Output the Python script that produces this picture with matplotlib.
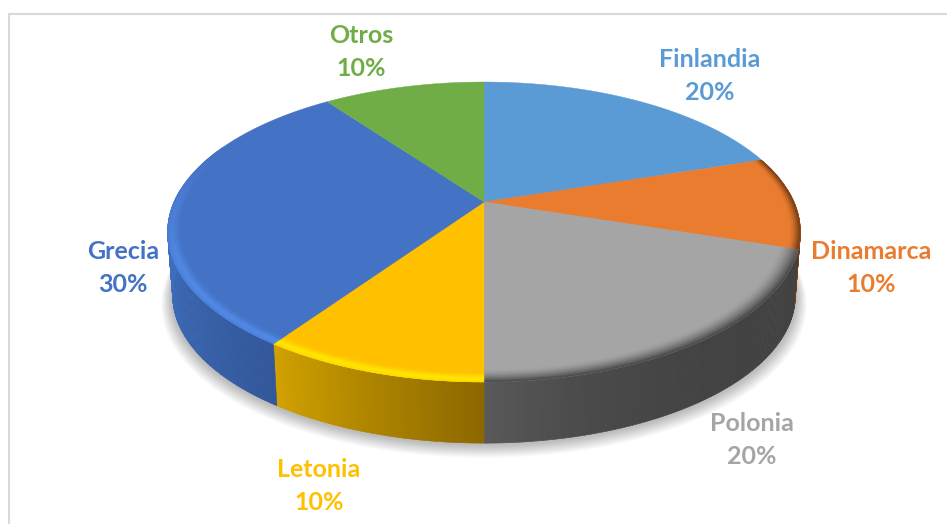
import numpy as np
import matplotlib
matplotlib.use('Agg')
import matplotlib.pyplot as plt
from matplotlib.collections import PolyCollection
from matplotlib.colors import to_rgb

# Chart data
countries = ['Finlandia', 'Dinamarca', 'Polonia', 'Letonia', 'Grecia', 'Otros']
percent_labels = [20, 10, 20, 10, 30, 10]
# Slice sizes, the labels above are rounded
shares = [20, 10, 20, 9.6, 30.4, 10]
top_colors = ['#5B9BD5', '#EA7C30', '#A5A5A5', '#FFC000', '#4472C4', '#70AD47']
label_x = [710, 871, 752, 319, 123, 361]
label_y = [76, 268, 440, 486, 268, 52]

# Side wall colours, from the start of a slice to its end (clockwise)
wall_start = ['#5B9BD5', '#8A4A1A', '#424242', '#8C6800', '#33589A', '#70AD47']
wall_end = ['#5B9BD5', '#6E3A14', '#5A5A5A', '#D2A200', '#3D6DBC', '#70AD47']
# Rim light per slice
rim_colors = ['#5B9BD5', '#5A2E0E', '#3C3C3C', '#FFE600', '#528AE6', '#70AD47']

# Pie geometry in pixels
cx, cy = 484, 202
rx, ry = 310, 144
persp = 0.2
depth = 64


def project(theta, r=1.0, z=0.0):
    # theta in degrees clockwise from 12 o'clock, perspective squeezes the back
    t = np.radians(theta)
    u, v = r * np.sin(t), r * np.cos(t)
    w = 1 + persp * v
    shrink = 1 - 0.016 * z
    return cx + rx * shrink * u / w, cy - ry * shrink * v / w + depth * z


def mix(a, b, t):
    a, b = np.array(to_rgb(a)), np.array(to_rgb(b))
    return tuple(a + (b - a) * np.clip(t, 0, 1))


fig = plt.figure(figsize=(9.47, 5.24), dpi=100)
ax = fig.add_axes([0, 0, 1, 1])
ax.set_xlim(0, 947)
ax.set_ylim(524, 0)
ax.axis('off')

# Chart frame
ax.plot([9, 9], [524, 14], color='#D9D9D9', lw=1.5)
ax.plot([9, 947], [14, 14], color='#D9D9D9', lw=1.5)

edges = np.cumsum([0] + shares) * 3.6

# Soft ground shadow
full = np.linspace(0, 360, 361)
for i in range(14):
    grow = 1 + (14 - i) * 0.0026
    bx, by = project(full, 1, 1)
    bx = cx + (bx - cx) * grow
    by = 260 + (by - 260) * grow + 1 + (14 - i) * 0.5
    ax.fill(bx, by, color='black', alpha=0.02, lw=0, zorder=1)

# Side wall
polys, cols = [], []
for k in range(len(shares)):
    a0, a1 = edges[k], edges[k + 1]
    steps = np.arange(max(a0, 85), min(a1, 275), 0.5)
    if len(steps) == 0:
        continue
    vis0, vis1 = max(a0, 101), min(a1, 258)
    for th in steps:
        th2 = min(th + 0.6, a1)
        x1, y1 = project(th, 1, 0)
        x2, y2 = project(th2, 1, 0)
        x3, y3 = project(th2, 1, 1)
        x4, y4 = project(th, 1, 1)
        t = (th - vis0) / max(vis1 - vis0, 1)
        if countries[k] == 'Polonia':
            t = t ** 4
        polys.append([(x1, y1), (x2, y2), (x3, y3), (x4, y4)])
        cols.append(mix(wall_start[k], wall_end[k], t))
ax.add_collection(PolyCollection(polys, facecolors=cols, edgecolors=cols, linewidths=0.4, zorder=2))

# Top faces
for k in range(len(shares)):
    arc = np.linspace(edges[k], edges[k + 1], 120)
    x, y = project(arc)
    ax.fill(np.r_[cx, x], np.r_[cy, y], color=top_colors[k], lw=0.3, zorder=3)

# Rim bevel: narrow rings blended into each face near its edge
radii = np.linspace(0.94, 1.0, 10)
polys, cols = [], []
for k in range(len(shares)):
    a0, a1 = edges[k], edges[k + 1]
    for th in np.arange(a0, a1, 0.5):
        th2 = min(th + 0.6, a1)
        # rim shows only on the front half, strongest away from the back
        front = np.clip(-np.cos(np.radians(th)) + 0.4, 0, 1) if 90 < th < 295 else 0.0
        if countries[k] == 'Dinamarca':
            front = 0.9
        if front == 0:
            continue
        for r0, r1 in zip(radii[:-1], radii[1:]):
            s = (r0 - radii[0]) / (radii[-1] - radii[0])
            if countries[k] == 'Polonia':
                amount = s ** 1.6
            elif countries[k] == 'Dinamarca':
                amount = max(0, (s - 0.4) / 0.6) ** 1.5
            else:
                amount = np.exp(-((s - 0.72) / 0.3) ** 2)
            x1, y1 = project(th, r0)
            x2, y2 = project(th2, r0)
            x3, y3 = project(th2, r1)
            x4, y4 = project(th, r1)
            c = mix(top_colors[k], rim_colors[k], amount * min(front * 1.2, 1))
            polys.append([(x1, y1), (x2, y2), (x3, y3), (x4, y4)])
            cols.append(c)
ax.add_collection(PolyCollection(polys, facecolors=cols, edgecolors=cols, linewidths=0.3, zorder=4))

# Labels
for k in range(len(shares)):
    ax.text(label_x[k], label_y[k], f'{countries[k]}\n{percent_labels[k]}%', color=top_colors[k],
            family='Lato', fontweight='bold', fontsize=18, ha='center', va='center',
            linespacing=1.5, zorder=5)

fig.savefig('out.png', dpi=100)
